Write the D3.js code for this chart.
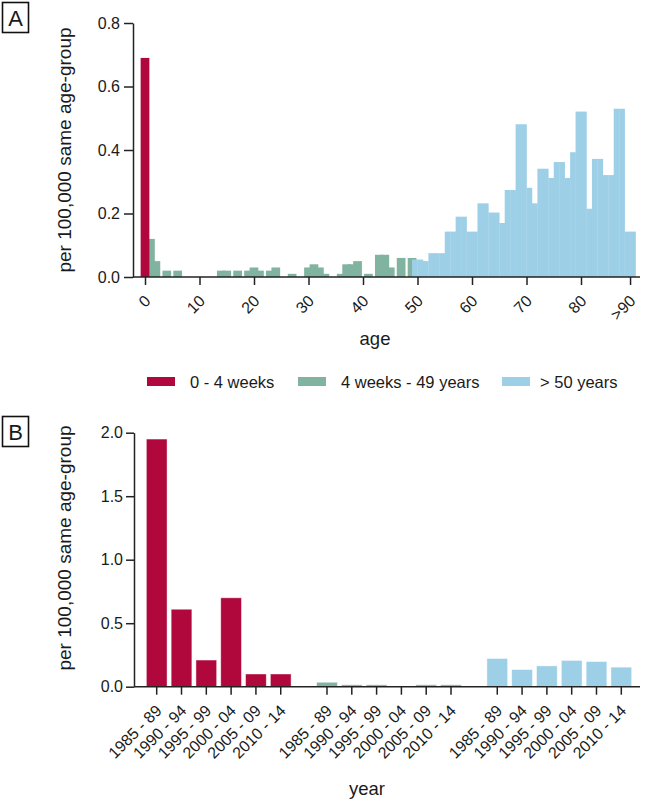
<!DOCTYPE html>
<html><head><meta charset="utf-8">
<script src="https://cdn.jsdelivr.net/npm/d3@7"></script>
<style>
body{margin:0;background:#fff}
svg{display:block}
text{font-family:"Liberation Sans",Arial,sans-serif;fill:#1a1a1a}
</style>
</head><body>
<svg id="chart" width="645" height="802"></svg>
<script>
// ---------- data ----------
const groupNames = ["0 - 4 weeks", "4 weeks - 49 years", "> 50 years"];
const groupColors = ["#B0073C", "#80B3A0", "#9DCFE7"];

// Panel A: rate per age
const redAges = [0];
const redValues = [0.69];
const greenAges = [1,2,3,4,5,6,7,8,9,10,11,12,13,14,15,16,17,18,19,20,21,22,23,24,25,
  26,27,28,29,30,31,32,33,34,35,36,37,38,39,40,41,42,43,44,45,46,47,48,49];
const greenValues = [0.12,0.05,0,0.02,0,0.02,0,0,0,0,0,0,0,0.02,0.02,0,0.02,0,0.02,0.03,
  0.02,0,0.02,0.03,0,0,0.01,0,0,0.03,0.04,0.03,0.01,0,0,0.01,0.04,0.04,0.05,0,
  0.01,0,0.07,0.07,0.03,0,0.06,0,0.06];
const blueAges = [50,51,52,53,54,55,56,57,58,59,60,61,62,63,64,65,66,67,68,69,70,
  71,72,73,74,75,76,77,78,79,80,81,82,83,84,85,86,87,88,89,90];
const blueValues = [0.055,0.055,0.05,0.075,0.075,0.075,0.143,0.143,0.19,0.19,0.143,0.143,
  0.232,0.232,0.203,0.203,0.17,0.274,0.274,0.481,0.481,0.281,0.232,0.341,0.341,0.312,
  0.362,0.362,0.312,0.393,0.521,0.521,0.215,0.372,0.372,0.321,0.321,0.53,0.53,0.143,0.143];
const ageTicks = [0,10,20,30,40,50,60,70,80,89];
const ageTickLabels = ["0","10","20","30","40","50","60","70","80",">90"];
const rateTicksA = [0,0.2,0.4,0.6,0.8];

// Panel B: rate per period
const periods = ["1985 - 89","1990 - 94","1995 - 99","2000 - 04","2005 - 09","2010 - 14"];
const redPeriodValues = [1.95,0.61,0.21,0.70,0.10,0.10];
const greenPeriodValues = [0.035,0.015,0.015,0.005,0.015,0.015];
const bluePeriodValues = [0.222,0.135,0.164,0.207,0.198,0.154];
const rateTicksB = [0,0.5,1.0,1.5,2.0];

// ---------- drawing ----------
const svg = d3.select("#chart");
const axisColor = "#222";

function panelLabel(y, letter){
  svg.append("rect").attr("x",2.5).attr("y",y).attr("width",26).attr("height",30)
    .attr("fill","none").attr("stroke","#111").attr("stroke-width",1.6);
  svg.append("text").attr("x",15.5).attr("y",y+23).attr("text-anchor","middle")
    .style("font-size","22px").text(letter);
}
function styleAxis(g){
  g.selectAll("path,line").attr("stroke",axisColor).attr("stroke-width",1.5);
  g.selectAll("text").style("font-size","16px").attr("fill","#1a1a1a");
}

// ===== Panel A =====
const xA = d3.scaleLinear().domain([0,80]).range([145,581]);
const yA = d3.scaleLinear().domain([0,0.8]).range([277,23]);
const axLeftA = 133;

const gA = svg.append("g");
gA.selectAll("rect.g").data(greenAges.map((a,i)=>({a, v:greenValues[i]})).filter(d=>d.v>0))
  .join("rect").attr("class","g")
  .attr("x",d=>xA(d.a-0.8)).attr("width",d=>xA(d.a+0.8)-xA(d.a-0.8))
  .attr("y",d=>yA(d.v)).attr("height",d=>yA(0)-yA(d.v))
  .attr("fill",groupColors[1]);
gA.selectAll("rect.b").data(blueAges.map((a,i)=>({a, v:blueValues[i]})))
  .join("rect").attr("class","b")
  .attr("x",d=>xA(d.a-1)).attr("width",d=>xA(d.a)-xA(d.a-1)+0.3)
  .attr("y",d=>yA(d.v)).attr("height",d=>yA(0)-yA(d.v))
  .attr("fill",groupColors[2]);
gA.selectAll("rect.r").data(redAges.map((a,i)=>({a, v:redValues[i]})))
  .join("rect").attr("class","r")
  .attr("x",d=>xA(d.a-0.8)).attr("width",d=>xA(d.a+0.8)-xA(d.a-0.8))
  .attr("y",d=>yA(d.v)).attr("height",d=>yA(0)-yA(d.v))
  .attr("fill",groupColors[0]);

const yAxisA = svg.append("g").attr("transform",`translate(${axLeftA},0)`)
  .call(d3.axisLeft(yA).tickValues(rateTicksA).tickFormat(d3.format(".1f"))
    .tickSize(9).tickSizeOuter(0).tickPadding(4));
styleAxis(yAxisA);
const xAxisA = svg.append("g").attr("transform",`translate(0,${yA(0)})`)
  .call(d3.axisBottom(xA).tickValues(ageTicks).tickFormat((d,i)=>ageTickLabels[i])
    .tickSize(8).tickSizeOuter(0));
xAxisA.select(".domain").remove();
xAxisA.append("line").attr("x1",axLeftA).attr("x2",640).attr("y1",0).attr("y2",0);
styleAxis(xAxisA);
xAxisA.selectAll(".tick text").attr("text-anchor","end").attr("dy",null)
  .attr("y",0).attr("transform","translate(6,25) rotate(-45)");

svg.append("text").attr("transform","translate(71,150) rotate(-90)")
  .attr("text-anchor","middle").style("font-size","19px").text("per 100,000 same age-group");
svg.append("text").attr("x",375).attr("y",345).attr("text-anchor","middle")
  .style("font-size","18.5px").text("age");
panelLabel(2.5,"A");

// ===== Legend =====
const legendX = [147, 298, 502];
const leg = svg.append("g");
groupNames.forEach((n,i)=>{
  leg.append("rect").attr("x",legendX[i]).attr("y",377).attr("width",28).attr("height",9)
    .attr("fill",groupColors[i]);
  leg.append("text").attr("x",legendX[i]+(i===2?38:43)).attr("y",387.5)
    .style("font-size","16.5px").text(n);
});

// ===== Panel B =====
const yB = d3.scaleLinear().domain([0,2]).range([686.7,432.7]);
const axLeftB = 134;
const outer = d3.scaleBand().domain(groupNames).range([144.3,633.7]).paddingInner(0.126).paddingOuter(0);
const inner = d3.scaleBand().domain(periods).range([0,outer.bandwidth()]).paddingInner(0.165).paddingOuter(0.0825);
const seriesB = [redPeriodValues, greenPeriodValues, bluePeriodValues];

const gB = svg.append("g");
groupNames.forEach((gname,gi)=>{
  gB.selectAll(null).data(periods.map((p,i)=>({p, v:seriesB[gi][i]})))
    .join("rect")
    .attr("x",d=>outer(gname)+inner(d.p)).attr("width",inner.bandwidth())
    .attr("y",d=>yB(d.v)).attr("height",d=>yB(0)-yB(d.v))
    .attr("fill",groupColors[gi]).attr("stroke","rgba(255,255,255,0.55)").attr("stroke-width",0.8);
});

const yAxisB = svg.append("g").attr("transform",`translate(${axLeftB},0)`)
  .call(d3.axisLeft(yB).tickValues(rateTicksB).tickFormat(d3.format(".1f"))
    .tickSize(8).tickSizeOuter(0).tickPadding(3));
styleAxis(yAxisB);

const xAxisB = svg.append("g").attr("transform",`translate(0,${yB(0)})`);
xAxisB.append("line").attr("x1",axLeftB).attr("x2",640).attr("y1",0).attr("y2",0);
groupNames.forEach(gname=>{
  const t = xAxisB.selectAll(null).data(periods).join("g")
    .attr("transform",d=>`translate(${outer(gname)+inner(d)+inner.bandwidth()/2},0)`);
  t.append("line").attr("y2",8);
  t.append("text").attr("text-anchor","end").attr("transform","translate(6,25) rotate(-45)").text(d=>d);
});
styleAxis(xAxisB);

svg.append("text").attr("transform","translate(71,548) rotate(-90)")
  .attr("text-anchor","middle").style("font-size","19px").text("per 100,000 same age-group");
svg.append("text").attr("x",367).attr("y",795).attr("text-anchor","middle")
  .style("font-size","18.5px").text("year");
panelLabel(416.5,"B");
</script>
</body></html>
